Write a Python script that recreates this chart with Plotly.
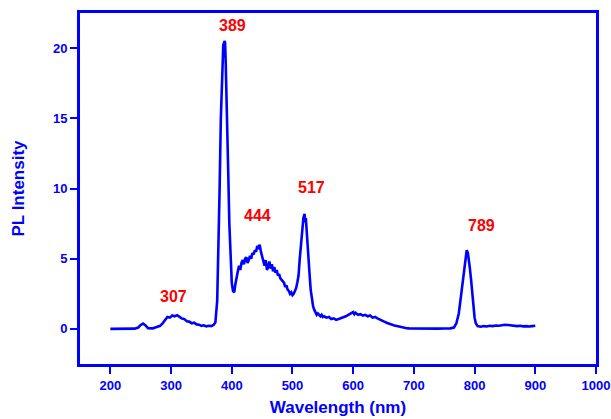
import plotly.graph_objects as go

wavelength = [200, 210, 220, 230, 240, 246, 250, 254, 258, 262, 266, 270, 274, 278, 282, 286, 290, 294, 298,
              302, 306, 310, 314, 318, 322, 326, 330, 334, 338, 342, 346, 350, 354, 358, 362, 366, 370, 373,
              376, 378, 380, 382, 384, 386, 388, 389, 390, 392, 394, 396, 398, 400, 402, 404, 406, 408, 410,
              412, 414, 416, 418, 420, 422, 424, 426, 428, 430, 432, 434, 436, 438, 440, 442, 444, 446, 448,
              450, 452, 454, 456, 458, 460, 462, 464, 466, 468, 470, 472, 474, 476, 478, 480, 482, 484, 486,
              488, 490, 492, 494, 496, 498, 500, 502, 504, 506, 508, 510, 512, 514, 516, 518, 520, 521, 522,
              524, 526, 528, 530, 532, 534, 536, 538, 540, 542, 544, 546, 548, 550, 552, 556, 560, 564, 568,
              572, 576, 580, 584, 588, 592, 596, 600, 602, 604, 608, 612, 616, 620, 624, 628, 632, 636, 640,
              644, 648, 652, 656, 660, 664, 668, 672, 676, 680, 684, 688, 692, 700, 710, 720, 730, 740, 750,
              760, 766, 770, 774, 778, 782, 785, 787, 789, 790, 792, 794, 796, 798, 800, 802, 805, 810, 815,
              820, 825, 830, 835, 840, 845, 850, 855, 860, 865, 870, 875, 880, 885, 890, 895, 900]

intensity = [0.00, 0.00, 0.01, 0.00, 0.02, 0.10, 0.28, 0.38, 0.25, 0.05, 0.02, 0.04, 0.10, 0.16, 0.22, 0.40,
             0.62, 0.85, 0.80, 0.95, 0.90, 0.98, 0.86, 0.74, 0.70, 0.55, 0.52, 0.40, 0.44, 0.32, 0.30, 0.22,
             0.26, 0.18, 0.22, 0.20, 0.28, 0.45, 2.0, 5.5, 10.0, 15.0, 18.5, 20.2, 20.5, 20.4, 19.0, 16.0,
             11.5, 7.5, 4.8, 3.3, 2.7, 2.6, 3.2, 3.8, 4.1, 4.5, 4.2, 4.7, 4.9, 4.6, 5.0, 5.1, 4.7, 4.9, 5.2,
             5.0, 5.4, 5.3, 5.6, 5.5, 5.9, 5.8, 6.0, 5.5, 5.2, 4.8, 4.5, 4.9, 4.2, 4.4, 4.8, 4.3, 4.6, 4.1,
             4.4, 4.0, 4.2, 3.8, 3.9, 3.6, 3.5, 3.4, 3.3, 3.0, 3.1, 2.8, 2.7, 2.5, 2.6, 2.4, 2.5, 2.7, 2.9,
             3.3, 3.8, 5.0, 6.2, 7.2, 7.9, 8.2, 7.6, 7.9, 6.8, 5.4, 4.0, 2.8, 2.0, 1.6, 1.35, 1.2, 1.0, 1.1,
             0.95, 0.9, 1.0, 0.85, 0.9, 0.8, 0.85, 0.7, 0.75, 0.65, 0.7, 0.75, 0.8, 0.9, 1.0, 1.1, 1.2, 1.05,
             1.15, 1.0, 1.05, 0.95, 1.0, 0.9, 0.95, 0.8, 0.85, 0.75, 0.65, 0.55, 0.5, 0.42, 0.35, 0.3, 0.25,
             0.2, 0.15, 0.12, 0.08, 0.05, 0.04, 0.03, 0.02, 0.03, 0.02, 0.02, 0.03, 0.04, 0.1, 0.4, 1.1, 2.6,
             4.0, 5.1, 5.6, 5.4, 4.9, 4.4, 3.6, 2.6, 1.6, 0.8, 0.4, 0.2, 0.15, 0.2, 0.17, 0.22, 0.2, 0.24,
             0.22, 0.27, 0.3, 0.28, 0.25, 0.23, 0.2, 0.22, 0.18, 0.2, 0.17, 0.2, 0.22]

peak_labels = ["307", "389", "444", "517", "789"]
label_x = [304, 401, 442, 531, 811]
label_y = [2.3, 21.6, 8.1, 10.05, 7.4]

x_ticks = [200, 300, 400, 500, 600, 700, 800, 900, 1000]
y_ticks = [0, 5, 10, 15, 20]

BLUE = "#0000FF"
FONT = "Liberation Sans"

fig = go.Figure()
fig.add_trace(go.Scatter(x=wavelength, y=intensity, mode="lines",
                         line=dict(color=BLUE, width=2.6), showlegend=False))

for t, x, y in zip(peak_labels, label_x, label_y):
    fig.add_annotation(x=x, y=y, text=t, showarrow=False, xanchor="center", yanchor="middle",
                       font=dict(family=FONT, size=16, color="#FF0000", weight="bold"))

fig.update_layout(
    width=611, height=419,
    margin=dict(l=80, r=15, t=13, b=55),
    paper_bgcolor="white", plot_bgcolor="white",
    xaxis=dict(range=[150, 1000], tickvals=x_ticks, ticks="outside", ticklen=7, tickwidth=2,
               tickcolor=BLUE, showline=True, linecolor=BLUE, linewidth=3, mirror=True,
               showgrid=False, zeroline=False, automargin=False,
               tickfont=dict(family=FONT, size=13, color=BLUE, weight="bold"),
               title=dict(text="Wavelength (nm)", standoff=10,
                          font=dict(family=FONT, size=17, color=BLUE, weight="bold"))),
    yaxis=dict(range=[-2.5, 22.5], tickvals=y_ticks, ticks="outside", ticklen=7, tickwidth=2,
               tickcolor=BLUE, showline=True, linecolor=BLUE, linewidth=3, mirror=True,
               showgrid=False, zeroline=False, automargin=False,
               tickfont=dict(family=FONT, size=13, color=BLUE, weight="bold"),
               title=dict(text="PL Intensity", standoff=24,
                          font=dict(family=FONT, size=17, color=BLUE, weight="bold"))),
)

fig.write_html("out.html")
